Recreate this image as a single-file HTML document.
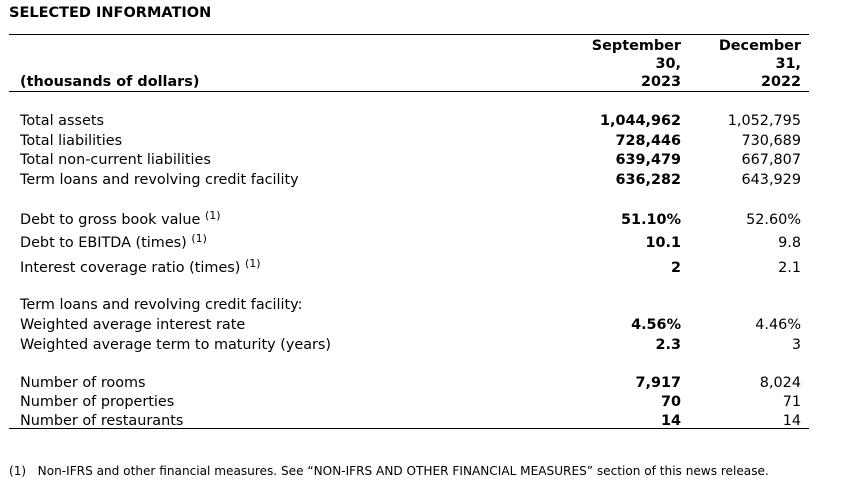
<!DOCTYPE html>
<html><head><meta charset="utf-8"><style>
body{margin:0;width:856px;height:491px;background:#fff;position:relative;font-family:"DejaVu Sans",Verdana,sans-serif;font-size:14.4px;color:#000;overflow:hidden}
.t{position:absolute;line-height:16px;white-space:nowrap}
.l{left:20px}
.a{right:175px;text-align:right;font-weight:bold}
.b{right:55px;text-align:right}
.h{font-weight:bold}
.line{position:absolute;left:9px;width:800px;height:1px;background:#000}
sup{font-size:11px;vertical-align:0;position:relative;top:-5px}
</style></head><body>
<div class="t h" style="left:9px;top:5px;font-size:14.5px">SELECTED INFORMATION</div>
<div class="line" style="top:34px"></div>
<div class="t a" style="top:38px">September</div>
<div class="t a" style="top:56px">30,</div>
<div class="t a" style="top:74px">2023</div>
<div class="t b" style="top:38px;font-weight:bold">December</div>
<div class="t b" style="top:56px;font-weight:bold">31,</div>
<div class="t b" style="top:74px;font-weight:bold">2022</div>
<div class="t l h" style="top:74px">(thousands of dollars)</div>
<div class="line" style="top:91px"></div>

<div class="t l" style="top:113px">Total assets</div><div class="t a" style="top:113px">1,044,962</div><div class="t b" style="top:113px">1,052,795</div>
<div class="t l" style="top:133px">Total liabilities</div><div class="t a" style="top:133px">728,446</div><div class="t b" style="top:133px">730,689</div>
<div class="t l" style="top:152px">Total non-current liabilities</div><div class="t a" style="top:152px">639,479</div><div class="t b" style="top:152px">667,807</div>
<div class="t l" style="top:172px">Term loans and revolving credit facility</div><div class="t a" style="top:172px">636,282</div><div class="t b" style="top:172px">643,929</div>

<div class="t l" style="top:212px">Debt to gross book value <sup>(1)</sup></div><div class="t a" style="top:212px">51.10%</div><div class="t b" style="top:212px">52.60%</div>
<div class="t l" style="top:235px">Debt to EBITDA (times) <sup>(1)</sup></div><div class="t a" style="top:235px">10.1</div><div class="t b" style="top:235px">9.8</div>
<div class="t l" style="top:260px">Interest coverage ratio (times) <sup>(1)</sup></div><div class="t a" style="top:260px">2</div><div class="t b" style="top:260px">2.1</div>

<div class="t l" style="top:297px">Term loans and revolving credit facility:</div>
<div class="t l" style="top:317px">Weighted average interest rate</div><div class="t a" style="top:317px">4.56%</div><div class="t b" style="top:317px">4.46%</div>
<div class="t l" style="top:337px">Weighted average term to maturity (years)</div><div class="t a" style="top:337px">2.3</div><div class="t b" style="top:337px">3</div>

<div class="t l" style="top:375px">Number of rooms</div><div class="t a" style="top:375px">7,917</div><div class="t b" style="top:375px">8,024</div>
<div class="t l" style="top:394px">Number of properties</div><div class="t a" style="top:394px">70</div><div class="t b" style="top:394px">71</div>
<div class="t l" style="top:413px">Number of restaurants</div><div class="t a" style="top:413px">14</div><div class="t b" style="top:413px">14</div>
<div class="line" style="top:428px"></div>

<div class="t" style="left:9px;top:463px;font-size:12.1px">(1)&nbsp;&nbsp;&nbsp;Non-IFRS and other financial measures. See “NON-IFRS AND OTHER FINANCIAL MEASURES” section of this news release.</div>
</body></html>
